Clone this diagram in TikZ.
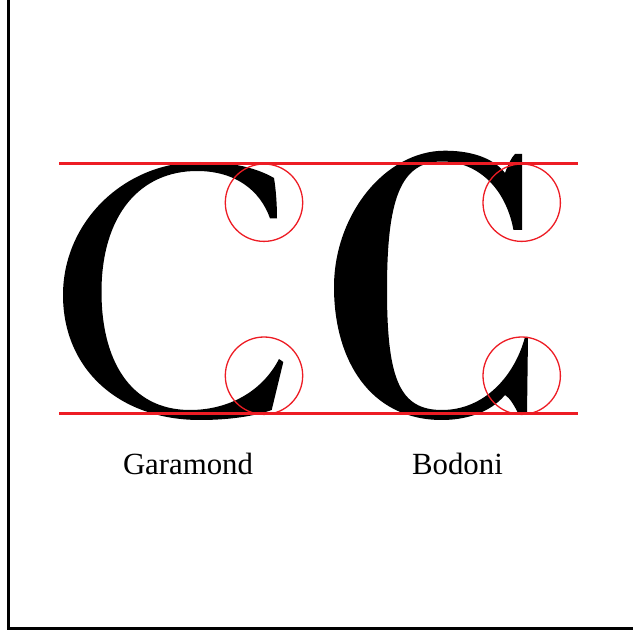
\documentclass[tikz,border=0pt]{standalone}
\usepackage{fontspec}
\setmainfont{Liberation Serif}
\definecolor{guidered}{RGB}{237,28,36}
\begin{document}
\begin{tikzpicture}[x=1pt,y=-1pt,
  guide/.style={draw=guidered,line width=3pt},
  ring/.style={draw=guidered,line width=1.3pt},
  glyph/.style={fill=black,draw=none},
  label/.style={font=\fontsize{30.8}{36}\selectfont,anchor=base,inner sep=0pt},
  frame/.style={draw=black,line width=3pt}]
\useasboundingbox (0,0) rectangle (633,631);
% frame (left and bottom edges visible)
\draw[frame] (8.5,-5) -- (8.5,628) -- (640,628);
% Garamond C
\fill[glyph] (274,178)
  .. controls (255,167) and (230,162) .. (200,162)
  .. controls (124,162) and (63,222) .. (63,295)
  .. controls (63,370) and (120,420) .. (200,420)
  .. controls (230,420) and (255,416) .. (271.7,410)
  -- (283.3,362) -- (279,359)
  .. controls (262,392) and (228,410) .. (190,410)
  .. controls (130,410) and (101.5,360) .. (101.5,292)
  .. controls (101.5,215) and (140,171) .. (197,171)
  .. controls (235,171) and (260,190) .. (270,218.3)
  -- (277,218.3)
  .. controls (277,205) and (276,190) .. (274,178) -- cycle;
% Bodoni C
\fill[glyph] (515,154) -- (522,154) -- (522,230) -- (513.5,230)
  .. controls (505,185) and (475,161.5) .. (442,161.5)
  .. controls (400,161.5) and (387,200) .. (387,290)
  .. controls (387,380) and (400,410) .. (442,410)
  .. controls (485,410) and (515,375) .. (525,337)
  -- (528,337) -- (527,415) -- (519,415)
  .. controls (514,405) and (510,398) .. (505,395)
  .. controls (490,413) and (465,420) .. (442,420)
  .. controls (370,420) and (334,360) .. (334,287)
  .. controls (334,215) and (385,150.7) .. (445,150.7)
  .. controls (475,150.7) and (495,160) .. (505,173)
  .. controls (508,165) and (511,158) .. (515,154) -- cycle;
% guide lines
\coordinate (tl) at (59,164);
\coordinate (tr) at (578,164);
\coordinate (bl) at (59,413.5);
\coordinate (br) at (578,413.5);
\draw[guide] (tl) -- (tr);
\draw[guide] (bl) -- (br);
% circles
\node[ring,circle,minimum size=77.4pt,inner sep=0pt] (g1) at (264,202.7) {};
\node[ring,circle,minimum size=77.4pt,inner sep=0pt] (g2) at (264,375.7) {};
\node[ring,circle,minimum size=77.4pt,inner sep=0pt] (b1) at (521.7,202.7) {};
\node[ring,circle,minimum size=77.4pt,inner sep=0pt] (b2) at (521.7,375.7) {};
% labels
\node[label] (garamond) at (188,474.3) {Garamond};
\node[label] (bodoni) at (457.5,474.3) {Bodoni};
\end{tikzpicture}
\end{document}
